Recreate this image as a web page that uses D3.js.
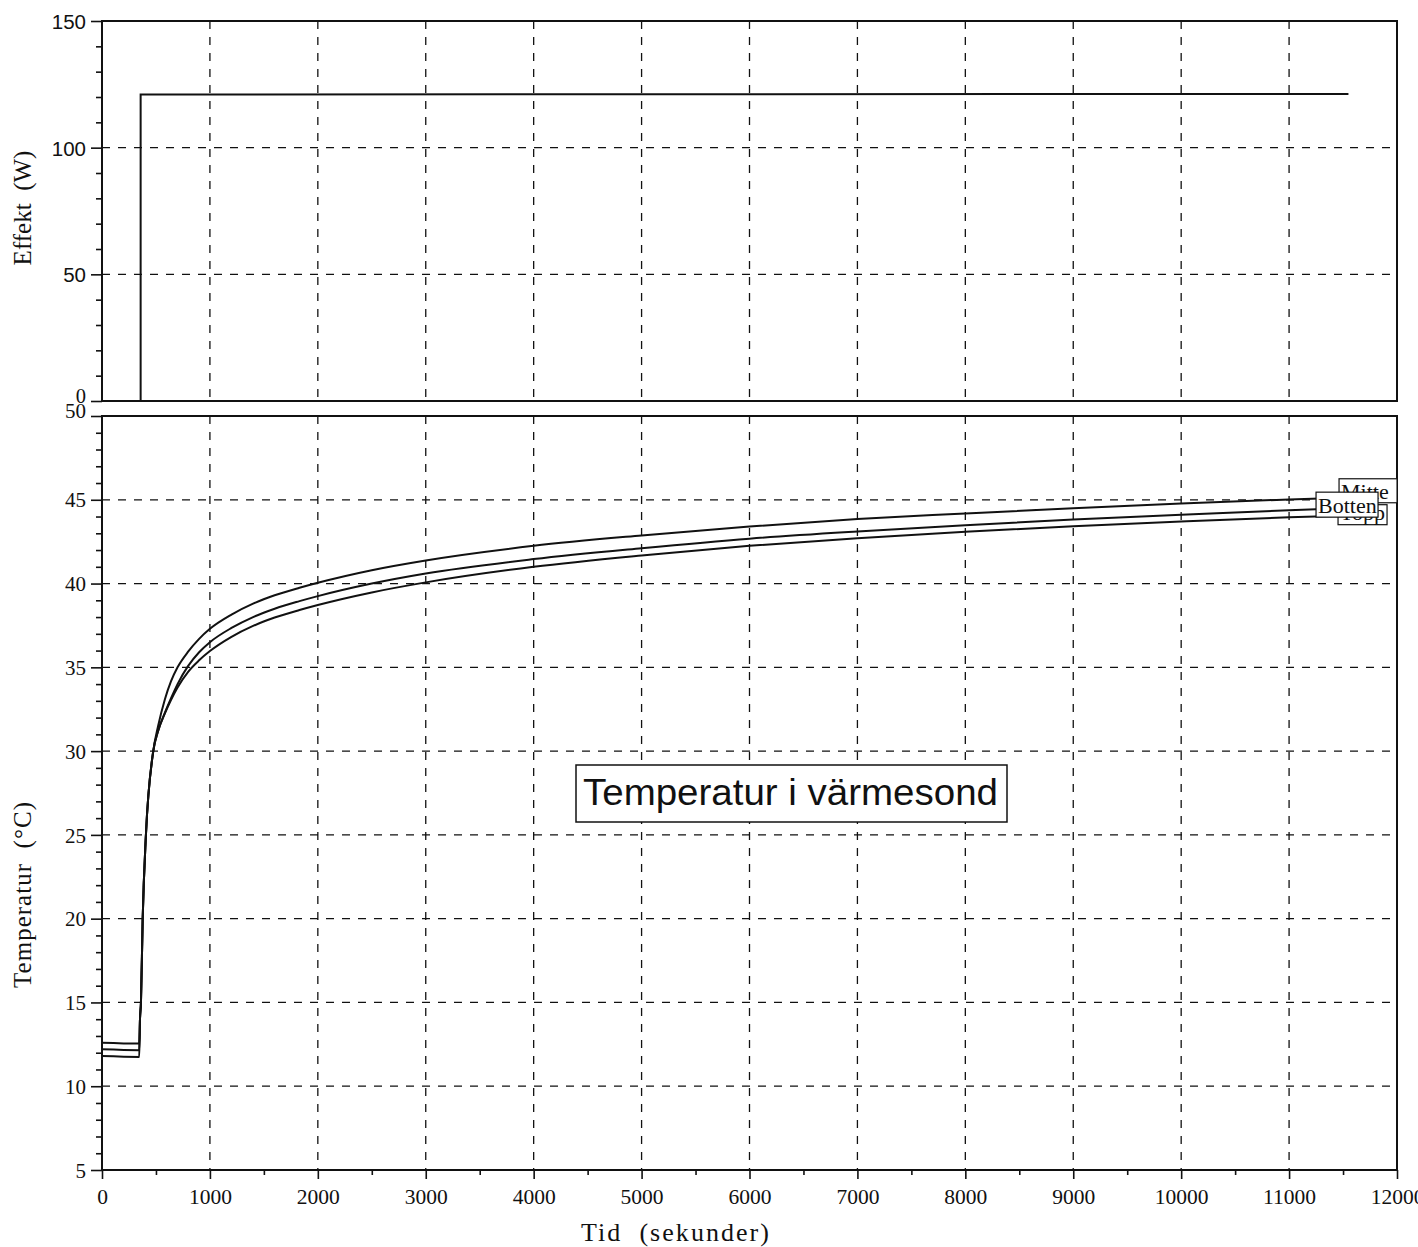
<!DOCTYPE html>
<html>
<head>
<meta charset="utf-8">
<script src="https://cdn.jsdelivr.net/npm/d3@7"></script>
<style>
  body { margin: 0; background: #fff; }
  text { white-space: pre; }
</style>
</head>
<body>
<svg id="chart" width="1418" height="1247"></svg>
<script>
// ---- data -------------------------------------------------------------
const timeTicks = [0, 1000, 2000, 3000, 4000, 5000, 6000, 7000, 8000, 9000, 10000, 11000, 12000];
const timeMinorTicks = [500, 1500, 2500, 3500, 4500, 5500, 6500, 7500, 8500, 9500, 10500, 11500];
const powerTicks = [0, 50, 100, 150];
const powerMinorTicks = [10, 20, 30, 40, 60, 70, 80, 90, 110, 120, 130, 140];
const tempTicks = [5, 10, 15, 20, 25, 30, 35, 40, 45, 50];
const tempMinorTicks = d3.range(6, 50).filter(v => v % 5 !== 0);

// heater power (W) against time (s)
const powerTime = [0, 358, 358, 11550];
const powerW    = [0, 0, 121.0, 121.2];

// probe temperatures (°C) against time (s)
const tempTime = [0, 345, 352, 361, 377, 407, 475, 520, 583, 639, 700, 800, 900,
                  1000, 1200, 1400, 1600, 1830, 2000, 2500, 3000, 4000, 5000, 6000,
                  7000, 8000, 9000, 10000, 11000, 11500];
const mitte  = [12.6, 12.55, 14.0, 15.0, 20.0, 25.0, 30.0, 31.5, 33.1, 34.16, 35.0, 35.95, 36.7,
                37.3, 38.15, 38.8, 39.3, 39.75, 40.05, 40.8, 41.38, 42.25, 42.87, 43.4,
                43.85, 44.18, 44.5, 44.78, 45.02, 45.12];
const botten = [12.2, 12.15, 14.0, 15.0, 20.0, 25.0, 30.0, 31.2, 32.3, 33.15, 34.0, 35.1, 35.9,
                36.5, 37.35, 38.0, 38.5, 38.95, 39.25, 40.0, 40.6, 41.46, 42.11, 42.68,
                43.11, 43.48, 43.82, 44.1, 44.38, 44.5];
const topp   = [11.8, 11.75, 14.0, 15.0, 20.0, 25.0, 30.0, 31.2, 32.25, 33.05, 33.8, 34.75, 35.42,
                35.97, 36.82, 37.47, 37.97, 38.42, 38.72, 39.47, 40.07, 41.0, 41.68, 42.25,
                42.71, 43.09, 43.42, 43.7, 43.95, 44.05];

const seriesNames = ["Mitte", "Topp", "Botten"];   // drawing order of end labels
const seriesValues = { Mitte: mitte, Botten: botten, Topp: topp };

// ---- layout -----------------------------------------------------------
const left = 102, right = 1397;
const topPanel = { top: 21, bottom: 401 };
const botPanel = { top: 416, bottom: 1170 };
const ink = "#111";
const serif = "'Liberation Serif', 'Times New Roman', serif";
const sans = "'Liberation Sans', Arial, sans-serif";

const svg = d3.select("#chart");
const x  = d3.scaleLinear().domain([0, 12000]).range([left, right]);
const yP = d3.scaleLinear().domain([0, 150]).range([topPanel.bottom, topPanel.top]);
const yT = d3.scaleLinear().domain([5, 50]).range([botPanel.bottom, botPanel.top]);

// ---- grid -------------------------------------------------------------
const grid = svg.append("g").attr("stroke", ink).attr("stroke-width", 1.3)
  .attr("stroke-dasharray", "8,8").attr("fill", "none");

[topPanel, botPanel].forEach(p => {
  grid.selectAll(null).data(timeTicks.slice(1, -1)).enter().append("line")
    .attr("x1", d => x(d)).attr("x2", d => x(d))
    .attr("y1", p.top).attr("y2", p.bottom);
});
grid.selectAll(null).data([50, 100]).enter().append("line")
  .attr("x1", left).attr("x2", right).attr("y1", d => yP(d)).attr("y2", d => yP(d));
grid.selectAll(null).data(tempTicks.slice(1, -1)).enter().append("line")
  .attr("x1", left).attr("x2", right).attr("y1", d => yT(d)).attr("y2", d => yT(d));

// ---- frames -----------------------------------------------------------
[topPanel, botPanel].forEach(p => {
  svg.append("rect").attr("x", left).attr("y", p.top)
    .attr("width", right - left).attr("height", p.bottom - p.top)
    .attr("fill", "none").attr("stroke", ink).attr("stroke-width", 2);
});

// ---- axes -------------------------------------------------------------
function styleAxis(g) {
  g.select(".domain").remove();
  g.selectAll("line").attr("stroke", ink).attr("stroke-width", 1.6);
}

// power axis
svg.append("g").attr("transform", `translate(${left},0)`)
  .call(d3.axisLeft(yP).tickValues(powerMinorTicks).tickSize(6).tickFormat(""))
  .call(styleAxis);
const pAxis = svg.append("g").attr("transform", `translate(${left},0)`)
  .call(d3.axisLeft(yP).tickValues(powerTicks).tickSize(11).tickPadding(5))
  .call(styleAxis);
pAxis.selectAll("text").attr("fill", ink).attr("font-size", 20.5)
  .attr("font-family", d => d === 0 ? serif : sans)
  .attr("dy", d => d === 0 ? "0.05em" : "0.36em");

// temperature axis
svg.append("g").attr("transform", `translate(${left},0)`)
  .call(d3.axisLeft(yT).tickValues(tempMinorTicks).tickSize(6).tickFormat(""))
  .call(styleAxis);
const tAxis = svg.append("g").attr("transform", `translate(${left},0)`)
  .call(d3.axisLeft(yT).tickValues(tempTicks).tickSize(11).tickPadding(5))
  .call(styleAxis);
tAxis.selectAll("text").attr("fill", ink).attr("font-size", 21)
  .attr("font-family", serif)
  .attr("dy", d => d === 50 ? "0.05em" : "0.34em");

// time axis
svg.append("g").attr("transform", `translate(0,${botPanel.bottom})`)
  .call(d3.axisBottom(x).tickValues(timeMinorTicks).tickSize(5).tickFormat(""))
  .call(styleAxis);
const xAxis = svg.append("g").attr("transform", `translate(0,${botPanel.bottom})`)
  .call(d3.axisBottom(x).tickValues(timeTicks).tickSize(9).tickPadding(10).tickFormat(d3.format("d")))
  .call(styleAxis);
xAxis.selectAll("text").attr("fill", ink).attr("font-size", 21.5).attr("font-family", serif);

// ---- axis titles ------------------------------------------------------
svg.append("text").attr("transform", "translate(31,208) rotate(-90)")
  .attr("text-anchor", "middle").attr("font-family", serif).attr("font-size", 25)
  .attr("fill", ink).text("Effekt  (W)");
svg.append("text").attr("transform", "translate(31,895) rotate(-90)")
  .attr("text-anchor", "middle").attr("font-family", serif).attr("font-size", 25)
  .attr("textLength", 186).attr("lengthAdjust", "spacing")
  .attr("fill", ink).text("Temperatur  (°C)");
svg.append("text").attr("x", 675).attr("y", 1241)
  .attr("text-anchor", "middle").attr("font-family", serif).attr("font-size", 26)
  .attr("textLength", 188).attr("lengthAdjust", "spacing")
  .attr("fill", ink).text("Tid  (sekunder)");

// ---- power curve ------------------------------------------------------
const powerPts = powerTime.map((t, i) => [t, powerW[i]]);
svg.append("path").datum(powerPts)
  .attr("d", d3.line().x(d => x(d[0])).y(d => yP(d[1])))
  .attr("fill", "none").attr("stroke", ink).attr("stroke-width", 2);

// ---- temperature curves -----------------------------------------------
const tempLine = d3.line().x(d => x(d[0])).y(d => yT(d[1])).curve(d3.curveMonotoneX);
Object.entries(seriesValues).forEach(([name, vals]) => {
  svg.append("path").datum(tempTime.map((t, i) => [t, vals[i]]))
    .attr("d", tempLine)
    .attr("fill", "none").attr("stroke", ink).attr("stroke-width", 2);
});

// ---- end-of-line labels -----------------------------------------------
const labelBox = {
  Mitte:  { dx: -4,  dy: -19, w: 58, h: 24, base: 20 },
  Botten: { dx: -27, dy: -16, w: 62, h: 25, base: 21 },
  Topp:   { dx: -5,  dy: -11, w: 49, h: 20, base: 15 }
};
const lastT = tempTime[tempTime.length - 1];
seriesNames.forEach(name => {
  const vals = seriesValues[name];
  const b = labelBox[name];
  const bx = x(lastT) + b.dx;
  const by = yT(vals[vals.length - 1]) + b.dy;
  const g = svg.append("g");
  g.append("rect").attr("x", bx).attr("y", by).attr("width", b.w).attr("height", b.h)
    .attr("fill", "#fff").attr("stroke", ink).attr("stroke-width", 1.2);
  g.append("text").attr("x", bx + 2).attr("y", by + b.base)
    .attr("font-family", serif).attr("font-size", 22).attr("fill", ink).text(name);
});

// ---- panel caption ----------------------------------------------------
const cap = svg.append("g");
cap.append("rect").attr("x", 576).attr("y", 765).attr("width", 431).attr("height", 57)
  .attr("fill", "#fff").attr("stroke", ink).attr("stroke-width", 1.5);
cap.append("text").attr("x", 583).attr("y", 805)
  .attr("font-family", sans).attr("font-size", 36).attr("fill", ink)
  .attr("textLength", 415).attr("lengthAdjust", "spacingAndGlyphs")
  .text("Temperatur i värmesond");
</script>
</body>
</html>
